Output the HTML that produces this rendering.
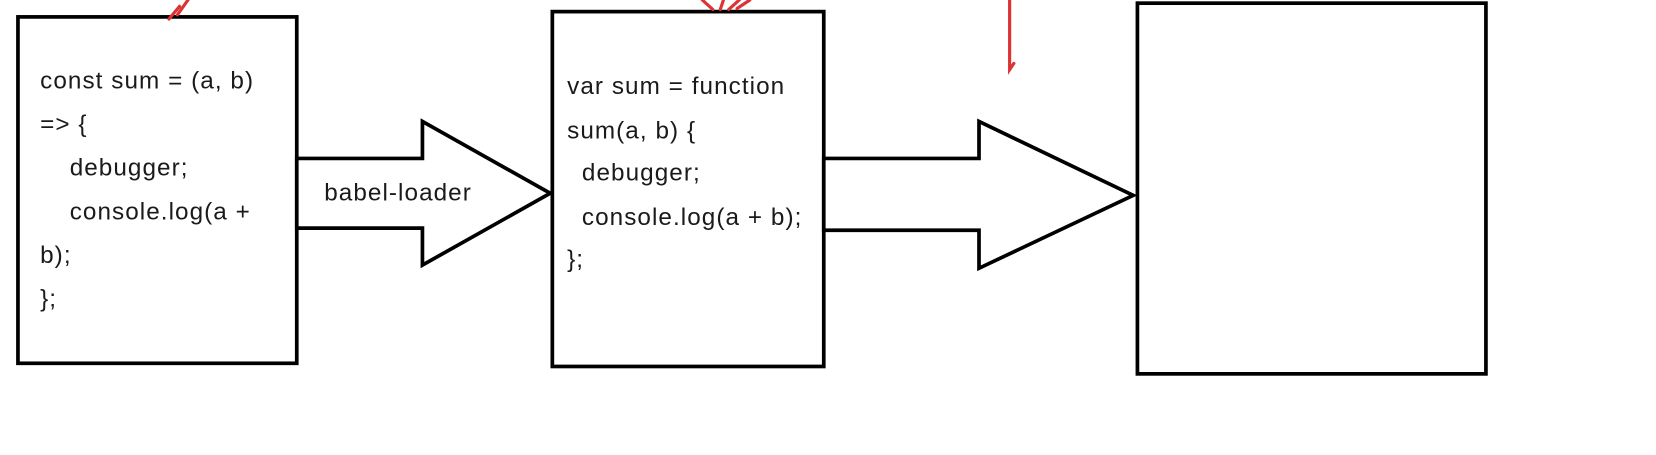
<!DOCTYPE html>
<html><head><meta charset="utf-8"><style>
body{margin:0;background:#fff;width:1656px;height:450px;overflow:hidden}
text{font-family:"Liberation Sans",sans-serif;font-size:23px;letter-spacing:1px;fill:#1a1a1a}
</style></head><body>
<svg width="1656" height="450">
<g transform="scale(1.0561)">
<g>
<rect x="17" y="16" width="264" height="328" fill="none" stroke="#000" stroke-width="3.5"/>
<text x="38" y="84">const sum = (a, b)</text>
<text x="38" y="125">=&gt; {</text>
<text x="66" y="166">debugger;</text>
<text x="66" y="208">console.log(a +</text>
<text x="38" y="249">b);</text>
<text x="38" y="290">};</text>
</g>
<g>
<polygon points="281,150 400,150 400,115 521,183 400,251 400,216 281,216" fill="#fff" stroke="#000" stroke-width="3.5"/>
<text x="307" y="190">babel-loader</text>
</g>
<g>
<rect x="523" y="11" width="257" height="336" fill="none" stroke="#000" stroke-width="3.5"/>
<text x="537" y="89">var sum = function</text>
<text x="537" y="131">sum(a, b) {</text>
<text x="551" y="171">debugger;</text>
<text x="551" y="213">console.log(a + b);</text>
<text x="537" y="253">};</text>
</g>
<g>
<polygon points="780,150 927,150 927,115 1073,185 927,254 927,218 780,218" fill="#fff" stroke="#000" stroke-width="3.5"/>
</g>
<rect x="1077" y="3" width="330" height="351" fill="none" stroke="#000" stroke-width="3.5"/>
<g stroke="#d33" stroke-width="3" fill="none" stroke-linecap="round">
<path d="M178,0 L168,14 M170,6 L160,18"/>
<path d="M665,0 L675,9 M685,0 L682,9 M700,0 L690,9 M710,0 L698,8"/>
<path d="M956,0 L956,66 L960,60"/>
</g>
</g>
</svg>
</body></html>
